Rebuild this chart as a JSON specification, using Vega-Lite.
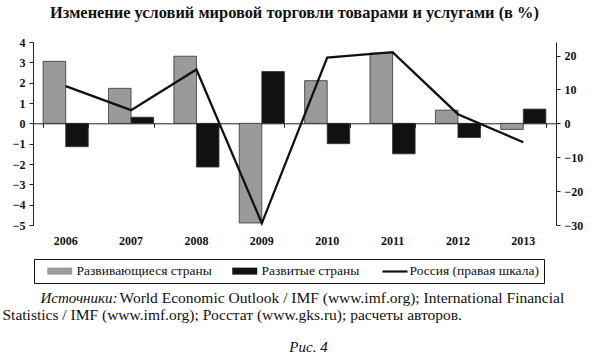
{
  "$schema": "https://vega.github.io/schema/vega-lite/v6.json",
  "width": 523,
  "height": 183,
  "autosize": {"type": "none"},
  "padding": {"left": 33, "top": 42, "right": 39, "bottom": 134},
  "background": "white",
  "config": {
    "view": {"stroke": null},
    "font": "Liberation Serif",
    "axis": {"labelFont": "Liberation Serif", "titleFont": "Liberation Serif", "grid": false, "labelColor": "#111", "titleColor": "#111"},
    "legend": {"labelFont": "Liberation Serif"}
  },
  "title": {
    "text": "Изменение условий мировой торговли товарами и услугами (в %)",
    "font": "Liberation Serif",
    "fontSize": 16.4,
    "fontWeight": "bold",
    "anchor": "middle",
    "offset": 15,
    "color": "#111"
  },
  "datasets": {
    "bars": [
      {"year": "2006", "series": "Развивающиеся страны", "value": 3.05},
      {"year": "2006", "series": "Развитые страны", "value": -1.15},
      {"year": "2007", "series": "Развивающиеся страны", "value": 1.72},
      {"year": "2007", "series": "Развитые страны", "value": 0.3},
      {"year": "2008", "series": "Развивающиеся страны", "value": 3.3},
      {"year": "2008", "series": "Развитые страны", "value": -2.15},
      {"year": "2009", "series": "Развивающиеся страны", "value": -4.9},
      {"year": "2009", "series": "Развитые страны", "value": 2.55},
      {"year": "2010", "series": "Развивающиеся страны", "value": 2.1},
      {"year": "2010", "series": "Развитые страны", "value": -1.0},
      {"year": "2011", "series": "Развивающиеся страны", "value": 3.45},
      {"year": "2011", "series": "Развитые страны", "value": -1.5},
      {"year": "2012", "series": "Развивающиеся страны", "value": 0.65},
      {"year": "2012", "series": "Развитые страны", "value": -0.7},
      {"year": "2013", "series": "Развивающиеся страны", "value": -0.3},
      {"year": "2013", "series": "Развитые страны", "value": 0.7}
    ],
    "russia": [
      {"year": "2006", "value": 11.0},
      {"year": "2007", "value": 3.9},
      {"year": "2008", "value": 15.9},
      {"year": "2009", "value": -29.5},
      {"year": "2010", "value": 19.4},
      {"year": "2011", "value": 21.0},
      {"year": "2012", "value": 2.7},
      {"year": "2013", "value": -5.6}
    ]
  },
  "layer": [
    {
      "data": {"name": "bars"},
      "mark": {"type": "bar", "stroke": "#333", "strokeWidth": 0.8},
      "encoding": {
        "x": {
          "field": "year", "type": "nominal",
          "scale": {"paddingInner": 0.31, "paddingOuter": 0.155},
          "axis": {
            "orient": "bottom", "domain": false, "ticks": false,
            "labelFontSize": 12, "labelFontWeight": "bold", "labelPadding": 10, "labelAngle": 0,
            "title": "World Economic Outlook / IMF (www.imf.org); International Financial",
            "titleFontSize": 15.5, "titleFontWeight": "normal",
            "titleX": 86, "titleY": 77, "titleAlign": "left", "titleBaseline": "alphabetic", "titleAnchor": "start"
          }
        },
        "xOffset": {
          "field": "series", "type": "nominal",
          "scale": {"domain": ["Развивающиеся страны", "Развитые страны"], "paddingInner": 0, "paddingOuter": 0}
        },
        "y": {
          "field": "value", "type": "quantitative",
          "scale": {"domain": [-5, 4], "nice": false, "zero": false},
          "axis": {
            "orient": "left", "values": [-5, -4, -3, -2, -1, 0, 1, 2, 3, 4],
            "domain": true, "domainColor": "#222", "ticks": true, "tickColor": "#222", "tickSize": 4,
            "labelFontSize": 12, "labelFontWeight": "bold", "labelPadding": 4,
            "title": "Источники:", "titleAngle": 0, "titleFontSize": 15, "titleFontStyle": "italic", "titleFontWeight": "normal",
            "titleX": 7, "titleY": 260, "titleAlign": "left", "titleBaseline": "alphabetic"
          }
        },
        "fill": {
          "field": "series", "type": "nominal",
          "scale": {"domain": ["Развивающиеся страны", "Развитые страны", "Россия (правая шкала)"], "range": ["#9a9a9a", "#111111", "white"]},
          "legend": {
            "orient": "none", "legendX": 1, "legendY": 217, "direction": "horizontal", "columns": 3,
            "title": null, "strokeColor": "#111", "fillColor": "white", "padding": 5,
            "labelFont": "Liberation Serif", "labelFontSize": 13.5, "labelColor": "#111", "labelOffset": 10, "labelLimit": 300,
            "symbolSize": 156, "columnPadding": 12, "symbolOffset": 14,
            "symbolType": "M-2,-0.56H2V0.56H-2Z", "symbolStrokeWidth": 0
          }
        }
      }
    },
    {
      "data": {"name": "russia"},
      "mark": {"type": "line", "strokeWidth": 2.3},
      "encoding": {
        "x": {
          "field": "year", "type": "nominal",
          "axis": {
            "orient": "bottom", "offset": -101.7, "labels": false,
            "domain": true, "domainColor": "#222", "domainWidth": 1,
            "ticks": true, "tickBand": "extent", "tickSize": 4, "tickColor": "#222",
            "title": "Statistics / IMF (www.imf.org); Росстат (www.gks.ru); расчеты авторов.",
            "titleFontSize": 15.5, "titleFontWeight": "normal",
            "titleX": -31, "titleY": 196, "titleAlign": "left", "titleBaseline": "alphabetic", "titleAnchor": "start"
          }
        },
        "y": {
          "field": "value", "type": "quantitative",
          "scale": {"domain": [-30, 24], "nice": false, "zero": false},
          "axis": {
            "orient": "right", "values": [-30, -20, -10, 0, 10, 20],
            "domain": true, "domainColor": "#222", "ticks": true, "tickColor": "#222", "tickSize": 4,
            "labelFontSize": 12, "labelFontWeight": "bold", "labelPadding": 4,
            "title": "Рис. 4", "titleAngle": 0, "titleFontSize": 15, "titleFontStyle": "italic", "titleFontWeight": "normal",
            "titleX": -248, "titleY": 309, "titleAlign": "center", "titleBaseline": "alphabetic"
          }
        },
        "stroke": {
          "datum": "Россия (правая шкала)",
          "scale": {"range": ["#111111"]},
          "legend": {
            "orient": "none", "legendX": 348, "legendY": 215.5, "title": null,
            "padding": 0, "symbolOffset": 0, "symbolType": "stroke", "symbolSize": 625, "symbolStrokeWidth": 2.2,
            "labelOpacity": 0, "labelFontSize": 1, "labelOffset": 0
          }
        }
      }
    }
  ],
  "resolve": {"scale": {"y": "independent"}, "axis": {"x": "independent"}}
}
